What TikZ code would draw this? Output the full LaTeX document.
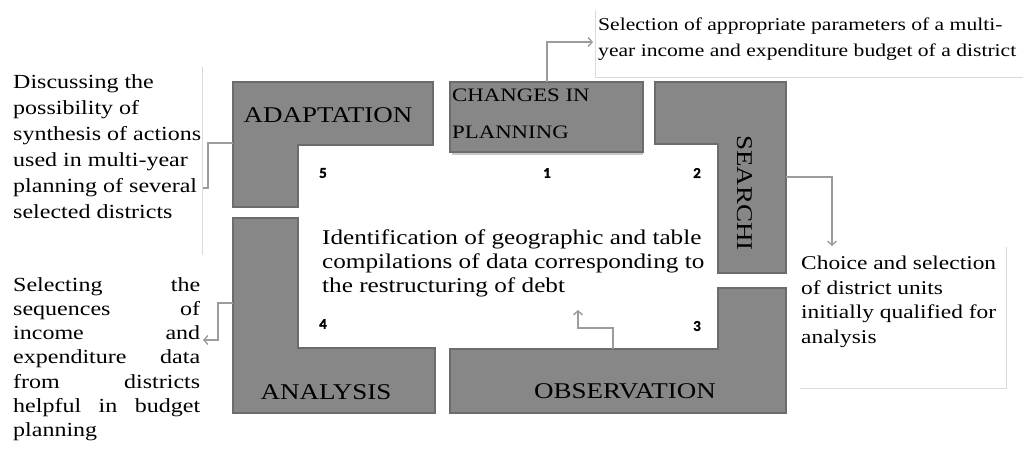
\documentclass[tikz,border=0pt]{standalone}
\usepackage{fontspec}
\setmainfont{Liberation Serif}[FakeStretch=1.2]
\newfontfamily\numfont{Carlito}[FakeBold=1.5]
\usetikzlibrary{arrows.meta}
\definecolor{blockgray}{HTML}{878787}
\definecolor{blockedge}{HTML}{6C6C6C}
\definecolor{linkgray}{HTML}{9C9C9C}
\definecolor{boxedge}{HTML}{DADADA}

\tikzset{
  block/.style={fill=blockgray, draw=blockedge, line width=1.6pt, line join=miter},
  link/.style={draw=linkgray, line width=1.4pt, -{Straight Barb[length=4pt,width=9pt]}},
  plainlink/.style={draw=linkgray, line width=1.4pt},
  frameline/.style={draw=boxedge, line width=1pt},
  stagename/.style={font=\fontsize{22.5}{24}\selectfont, inner sep=0pt},
  stepnum/.style={font=\numfont\bfseries\fontsize{15}{15}\selectfont, inner sep=0pt},
  note/.style={font=\fontsize{20}{26}\selectfont, inner sep=0pt, anchor=north west, align=left}
}

\begin{document}
\begin{tikzpicture}[x=1pt,y=-1pt]
\useasboundingbox (0,0) rectangle (1023,453);

% the five blocks round the centre
\draw[block] (233,82) -- (433,82) -- (433,145) -- (298,145) -- (298,207) -- (233,207) -- cycle;
\draw[boxedge!80!gray, line width=2pt] (452,154) -- (643,154);
\draw[block] (450,82) rectangle (643,152);
\draw[block] (655,82) -- (786,82) -- (786,273) -- (718,273) -- (718,144) -- (655,144) -- cycle;
\draw[block] (233,218) -- (298,218) -- (298,348) -- (435,348) -- (435,413) -- (233,413) -- cycle;
\draw[block] (718,288) -- (786,288) -- (786,413) -- (450,413) -- (450,349) -- (718,349) -- cycle;

% block names
\node[stagename] (adapt) at (328,115) {ADAPTATION};
\node[stagename, font=\fontsize{19}{37}\selectfont, anchor=north west, align=left] (plan) at (452,89) {CHANGES IN\\PLANNING};
\node[stagename, rotate=-90] (search) at (745,193) {SEARCHI};
\node[stagename] (analysis) at (326,392) {ANALYSIS};
\node[stagename] (observ) at (625,391) {OBSERVATION};

% step numbers
\node[stepnum] (n5) at (323,173) {5};
\node[stepnum] (n1) at (547,173) {1};
\node[stepnum] (n2) at (697,173) {2};
\node[stepnum] (n4) at (323,324) {4};
\node[stepnum] (n3) at (697,326) {3};

% centre text
\node[note, font=\fontsize{21}{24}\selectfont] (centre) at (322,230)
  {Identification of geographic and table\\compilations of data corresponding to\\the restructuring of debt};

% side notes
\draw[frameline] (202,67) -- (202,255);
\node[note] (synth) at (13,74)
  {Discussing the\\possibility of\\synthesis of actions\\used in multi-year\\planning of several\\selected districts};
\node[note, font=\fontsize{20}{24.3}\selectfont, text width=187pt] (seq) at (13,277)
  {Selecting\hfill the\\sequences\hfill of\\income\hfill and\\expenditure\hfill data\\from\hfill districts\\helpful\hfill in\hfill budget\\planning};
\draw[frameline] (595,10) -- (595,77) -- (1023,77);
\node[note, font=\fontsize{18}{26}\selectfont] (param) at (598,18)
  {Selection of appropriate parameters of a multi-\\year income and expenditure budget of a district};
\draw[frameline] (1006,247) -- (1006,388) -- (800,388);
\node[note, font=\fontsize{19.5}{24.5}\selectfont] (choice) at (801,256)
  {Choice and selection\\of district units\\initially qualified for\\analysis};

% connectors
\coordinate (a1) at (233,143);
\coordinate (a2) at (203,188);
\draw[plainlink] (a1) -- ++(-25,0) |- (a2);
\coordinate (p1) at (547,82);
\coordinate (p2) at (593,42);
\draw[link] (p1) |- (p2);
\coordinate (s1) at (786,177);
\coordinate (s2) at (832,246);
\draw[link] (s1) -| (s2);
\coordinate (o1) at (613,349);
\coordinate (o2) at (578,310);
\draw[link] (o1) -- ++(0,-21) -| (o2);
\coordinate (r1) at (233,303);
\coordinate (r2) at (203,340);
\draw[link] (r1) -- ++(-15,0) |- (r2);
\end{tikzpicture}
\end{document}
